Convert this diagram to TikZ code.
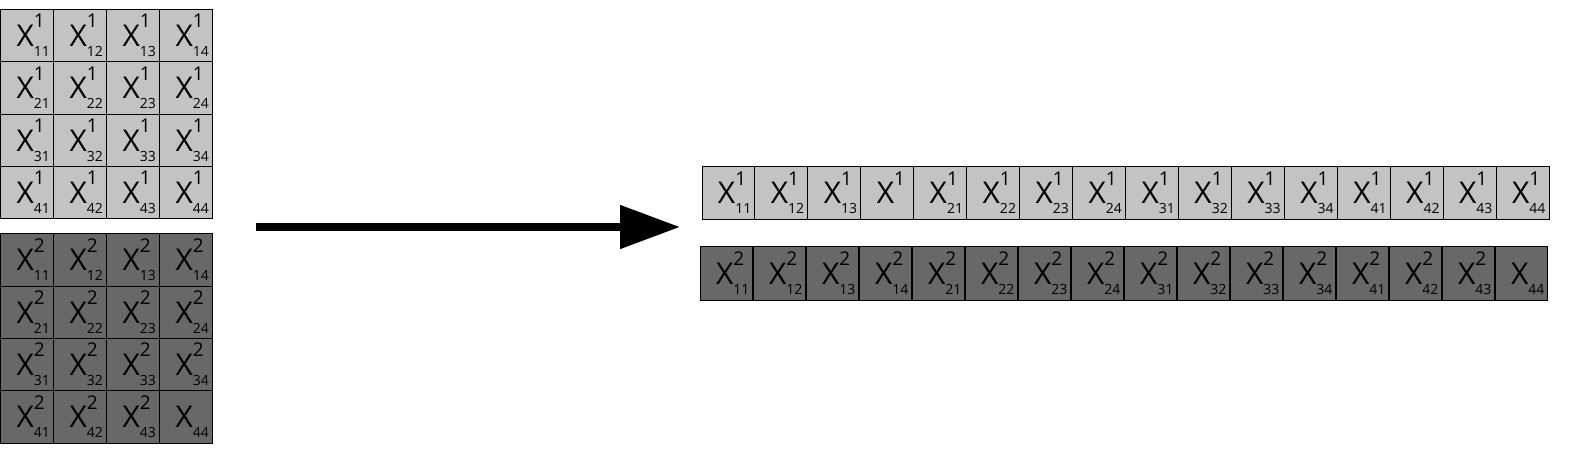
\documentclass[tikz,border=0pt]{standalone}
\usepackage{fontspec}
\setmainfont{Open Sans}
\usetikzlibrary{arrows.meta}

\definecolor{layerone}{RGB}{195,195,195}
\definecolor{layertwo}{RGB}{104,104,104}

% X with superscript and subscript, fixed width so every cell lines up
\newcommand{\xent}[2]{\makebox[21pt][l]{\fontsize{30}{30}\selectfont X%
\rlap{\raisebox{18.6pt}[0pt][0pt]{\fontsize{19}{19}\selectfont #1}}%
\raisebox{-10pt}[0pt][0pt]{\fontsize{14}{14}\selectfont #2}}}

\tikzset{
	cell/.style={draw, line width=1pt, inner sep=0pt, minimum width=53pt, minimum height=52.4pt},
	topcell/.style={cell, fill=layerone},
	botcell/.style={cell, fill=layertwo},
	rowcell/.style={draw, line width=1pt, inner sep=0pt, minimum width=52.94pt, minimum height=52.4pt},
}

\begin{document}
\begin{tikzpicture}[x=1pt,y=-1pt]
		\useasboundingbox (0,0) rectangle (1570,454);
		
		% left: the two 4x4 grids
		\foreach \r in {1,...,4}
		\foreach \c in {1,...,4} {
			\node[topcell] (g1-\r\c) at ({0.5+26.5+(\c-1)*53},{9.3+26.2+(\r-1)*52.4}) {\xent{1}{\r\c}};
			\edef\xsup{\ifnum\r\c=44 \else 2\fi}
			\node[botcell] (g2-\r\c) at ({0.5+26.5+(\c-1)*53},{234+26.2+(\r-1)*52.3}) {\xent{\xsup}{\r\c}};
		}
		
		% right: the two flattened rows
		\foreach \r in {1,...,4}
		\foreach \c in {1,...,4} {
			\edef\xsub{\ifnum\r\c=14 \else\r\c\fi}
			\edef\xsup{\ifnum\r\c=44 \else 2\fi}
			\node[rowcell, fill=layerone] (v1-\r\c) at ({702+26.47+((\r-1)*4+\c-1)*52.94},193) {\xent{1}{\xsub}};
			\node[rowcell, fill=layertwo, minimum height=53pt] (v2-\r\c) at ({700+26.5+((\r-1)*4+\c-1)*53},273.5) {\xent{\xsup}{\r\c}};
		}
		
		\coordinate (from) at (256,227);
		\coordinate (to) at (680,227);
		\draw[line width=8pt, -{Triangle[length=60pt,width=42pt]}] (from) -- (to);
		\end{tikzpicture}
\end{document}
